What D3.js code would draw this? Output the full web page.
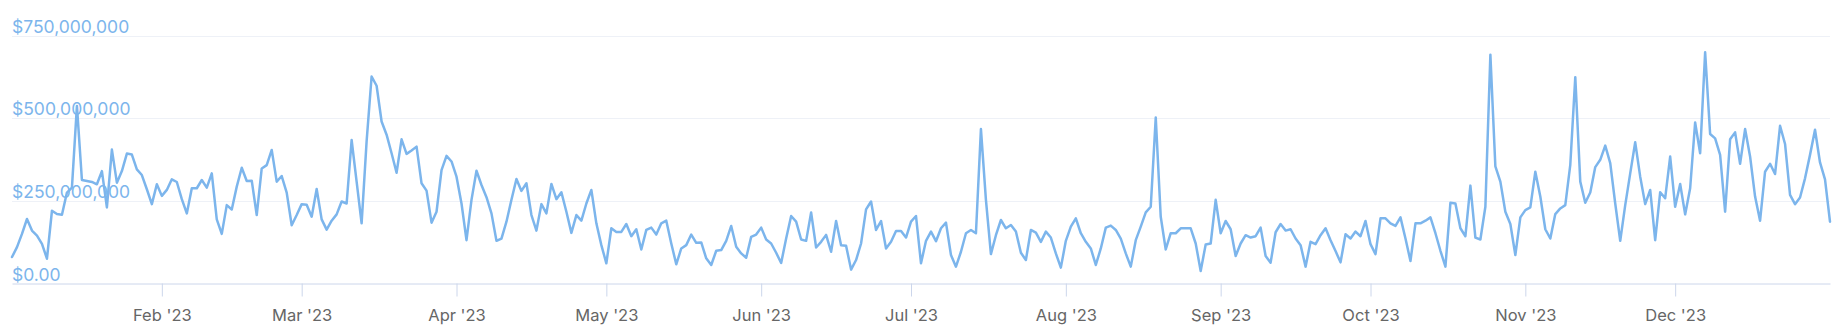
<!DOCTYPE html>
<html>
<head>
<meta charset="utf-8">
<script src="https://cdn.jsdelivr.net/npm/d3@7"></script>
<style>
  html, body { margin: 0; padding: 0; background: #fff; }
  svg { display: block; font-family: Inter, "Noto Sans", sans-serif; }
</style>
</head>
<body>
<svg id="chart" width="1839" height="325"></svg>
<script>
// daily volume in millions of USD, first point is 2 Jan 2023
let startDate = new Date(2023, 0, 2);
let jan = [80,110,150,195,160,145,120,75,220,210,208,275,290,537,313,310,307,300,340,230,405,305,340,393,390,345,328,285,240,300];
let feb = [265,283,315,307,255,212,288,288,313,290,333,194,150,237,224,293,350,310,311,207,348,358,404,308,325,275,176,207];
let mar = [240,238,202,286,194,163,190,209,248,242,434,308,182,430,626,598,490,450,394,335,436,392,402,414,303,281,184,217,343,386,369];
let apr = [323,242,131,253,341,298,261,212,129,136,187,253,316,280,303,207,160,240,212,301,255,276,217,153,207,190,242,283,182,116];
let may = [61,167,156,156,180,143,164,103,162,169,148,182,190,121,58,106,116,148,123,124,76,56,99,101,129,174,111,91,78,141,148];
let jun = [169,133,121,93,62,136,204,187,133,129,215,109,126,147,96,189,116,114,42,71,121,224,248,162,189,106,126,159,159,139];
let jul = [187,204,61,129,157,128,167,184,86,51,96,152,162,152,467,253,89,146,192,167,177,157,93,71,162,154,126,157,139,91,48];
let aug = [129,172,197,152,126,106,56,106,169,175,162,136,91,51,131,172,215,232,502,202,103,152,152,167,167,167,121,38,118,121,253];
let sep = [152,189,164,83,121,146,139,143,169,83,63,155,180,160,164,136,116,51,126,119,146,167,131,98,64,149,136,157,143,189];
let oct = [119,89,197,197,182,174,200,136,68,182,182,190,200,152,99,51,244,242,167,143,296,139,133,232,692,354,308,217,180,86,200];
let nov = [222,230,338,263,164,136,210,227,237,359,624,308,244,275,352,374,417,364,242,129,237,333,427,323,240,283,131,276,258,384];
let dec = [232,301,209,288,487,394,699,452,439,389,217,436,457,362,467,384,263,190,338,362,331,477,422,268,240,260,318,389,465,366,315];
let jan24 = [187];

let yTicks = [0, 250e6, 500e6, 750e6];
let yTickLabels = ["$0.00", "$250,000,000", "$500,000,000", "$750,000,000"];
let monthTicks = ["2023-02-01","2023-03-01","2023-04-01","2023-05-01","2023-06-01","2023-07-01","2023-08-01","2023-09-01","2023-10-01","2023-11-01","2023-12-01"];
let monthLabels = ["Feb '23","Mar '23","Apr '23","May '23","Jun '23","Jul '23","Aug '23","Sep '23","Oct '23","Nov '23","Dec '23"];

// build the series
let values = [].concat(jan, feb, mar, apr, may, jun, jul, aug, sep, oct, nov, dec, jan24);
let data = values.map(function(v, i) {
    let d = new Date(startDate);
    d.setDate(d.getDate() + i);
    return {date: d, value: v * 1e6};
});

let svg = d3.select("#chart");
let plotLeft = 12, plotRight = 1830, plotTop = 35.5, plotBottom = 283.5;

let x = d3.scaleTime()
    .domain(d3.extent(data, d => d.date))
    .range([plotLeft, plotRight]);
let y = d3.scaleLinear()
    .domain([0, 750e6])
    .range([plotBottom, plotTop]);

// grid lines
svg.append("g")
    .selectAll("line")
    .data(yTicks.slice(1))
    .join("line")
    .attr("x1", plotLeft).attr("x2", plotRight)
    .attr("y1", d => Math.round(y(d)) + 0.5)
    .attr("y2", d => Math.round(y(d)) + 0.5)
    .attr("stroke", "#eef1f7")
    .attr("stroke-width", 1);

// x axis
let parse = d3.timeParse("%Y-%m-%d");
let xAxis = d3.axisBottom(x)
    .tickValues(monthTicks.map(parse))
    .tickFormat((d, i) => monthLabels[i])
    .tickSizeInner(13)
    .tickSizeOuter(0)
    .tickPadding(13);

let gx = svg.append("g")
    .attr("transform", `translate(0,${plotBottom})`)
    .call(xAxis);
gx.select(".domain").attr("stroke", "#ccd6eb");
gx.selectAll(".tick line").attr("stroke", "#ccd6eb");
gx.selectAll(".tick text")
    .attr("fill", "#666666")
    .style("font-size", "16.5px")
    .style("font-family", "Inter, sans-serif");

// y labels sit above their grid line
svg.append("g")
    .selectAll("text")
    .data(yTicks)
    .join("text")
    .attr("x", plotLeft)
    .attr("y", d => y(d) - 3)
    .attr("fill", "#7cb5ec")
    .style("font-size", "17.5px")
    .text((d, i) => yTickLabels[i]);

// the series line
let line = d3.line()
    .x(d => x(d.date))
    .y(d => y(d.value));

svg.append("path")
    .datum(data)
    .attr("fill", "none")
    .attr("stroke", "#7cb5ec")
    .attr("stroke-width", 2.5)
    .attr("stroke-linejoin", "round")
    .attr("stroke-linecap", "round")
    .attr("d", line);
</script>
</body>
</html>
